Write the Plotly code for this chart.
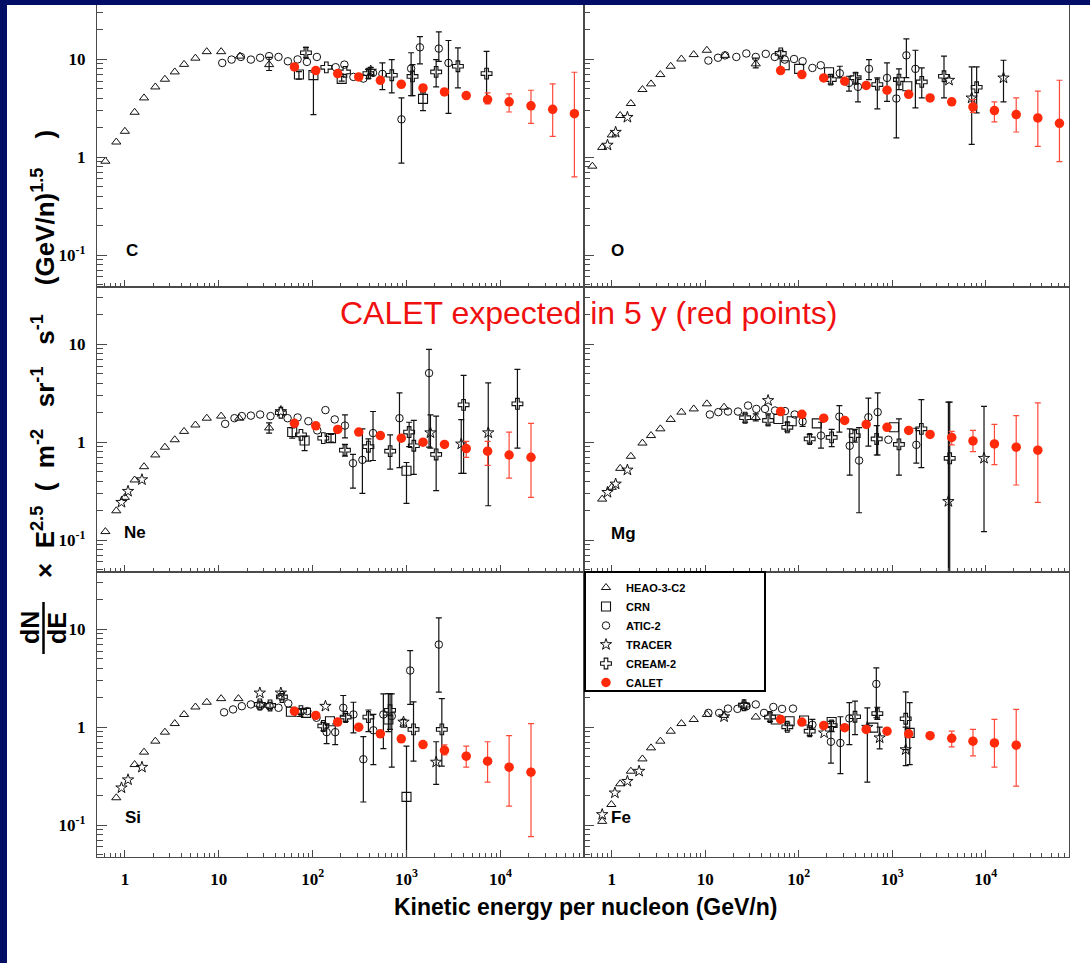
import plotly.graph_objects as go

W, H = 1090, 963

# ---------------- data (E in GeV/n, flux x E^2.5) ----------------
CALET_E = [64, 108, 185, 310, 527, 880, 1500, 2540, 4330, 7310, 12400, 21200, 36100, 61500]

# Carbon
C_HEAO_E = [0.62, 0.81, 1.0, 1.27, 1.6, 2.11, 2.67, 3.4, 4.27, 5.64, 7.45, 10.6, 16.8, 34.4]
C_HEAO_Y = [0.91, 1.43, 1.84, 2.88, 4.04, 5.23, 6.27, 7.45, 8.9, 10.3, 12.0, 12.0, 10.8, 8.85]
C_HEAO_HI = [None] * 13 + [10.5]
C_HEAO_LO = [None] * 13 + [7.7]
C_CRN_E = [71.5, 102, 204, 1500]
C_CRN_Y = [7.0, 6.9, 6.32, 3.95]
C_CRN_HI = [7.5, 7.4, 6.7, 4.54]
C_CRN_LO = [6.3, 2.73, 6.0, 3.0]
C_ATIC_E = [10.9, 13.7, 17.2, 22, 27.6, 34.4, 43.3, 54.5, 69.2, 86.9, 111, 176, 218, 272, 347, 440, 554, 884, 1120, 1390, 2210, 2800]
C_ATIC_Y = [9.2, 9.96, 10.6, 9.96, 10.4, 10.8, 10.6, 9.57, 10.0, 9.43, 10.6, 8.32, 8.85, 6.62, 6.37, 7.28, 7.11, 2.44, 8.06, 13.3, 12.9, 9.2]
C_ATIC_HI = [None] * 16 + [9.2, 4.04, 11.7, 17.1, 19.1, 15.6]
C_ATIC_LO = [None] * 16 + [4.91, 0.87, 4.27, 9.0, 9.57, 2.81]
C_TRACER_E = [416]
C_TRACER_Y = [7.6]
C_TRACER_HI = [8.3]
C_TRACER_LO = [6.9]
C_CREAM_E = [84.9, 140, 221, 393, 697, 1160, 2070, 3530, 7130]
C_CREAM_Y = [11.7, 8.3, 7.45, 7.16, 6.89, 6.7, 7.45, 8.51, 7.16]
C_CREAM_HI = [13.3, None, None, 7.9, 9.96, 8.85, 9.96, 13.1, 12.1]
C_CREAM_LO = [10.4, None, None, 6.4, 4.54, 4.27, 5.23, 5.11, 3.73]
C_CALET_Y = [8.38, 7.69, 7.16, 6.62, 6.12, 5.57, 5.11, 4.65, 4.27, 3.88, 3.68, 3.35, 3.09, 2.79]
C_CALET_HI = [None] * 9 + [4.54, 4.44, 4.84, 5.61, 7.39]
C_CALET_LO = [None] * 9 + [3.51, 2.90, 2.22, 1.63, 0.63]

# Oxygen
O_HEAO_E = [0.62, 0.79, 1.0, 1.23, 1.6, 2.13, 2.63, 3.31, 4.27, 5.56, 7.53, 10.4, 16.3, 34.7]
O_HEAO_Y = [0.81, 1.26, 1.69, 2.67, 3.54, 4.92, 5.62, 7.0, 8.51, 10.1, 11.2, 12.4, 11.0, 9.0]
O_HEAO_HI = [None] * 13 + [10.3]
O_HEAO_LO = [None] * 13 + [8.2]
O_CRN_E = [70.8, 101, 211, 1450]
O_CRN_Y = [8.71, 8.0, 7.39, 5.32]
O_ATIC_E = [10.8, 13.7, 16.3, 21.5, 27.5, 34.7, 44.4, 55.4, 70.8, 89.1, 110, 140, 172, 275, 345, 430, 564, 880, 1107, 1417, 1770]
O_ATIC_Y = [9.73, 10.4, 11.0, 10.6, 11.5, 10.6, 11.4, 10.6, 9.96, 10.1, 9.58, 8.18, 8.71, 7.22, 5.75, 5.24, 8.0, 6.47, 3.98, 11.0, 8.0]
O_ATIC_HI = [None] * 13 + [8.51, 6.73, 6.47, 9.96, 9.2, 6.47, 16.2, 12.4]
O_ATIC_LO = [None] * 13 + [6.47, 4.73, 3.68, 6.22, 3.73, 1.58, 6.5, 3.19]
O_TRACER_E = [0.90, 1.10, 1.47, 4050, 7080, 15500]
O_TRACER_Y = [1.33, 1.80, 2.56, 6.13, 4.04, 6.47]
O_TRACER_HI = [None, None, None, None, 8.38, 9.8]
O_TRACER_LO = [None, None, None, None, 1.35, 3.68]
O_CREAM_E = [64.2, 220, 406, 693, 1180, 2070, 3580, 8000]
O_CREAM_Y = [11.5, 6.22, 6.5, 5.53, 6.22, 5.89, 6.73, 5.19]
O_CREAM_HI = [12.4, 7.0, 7.3, 6.47, 8.0, 8.18, 10.8, 8.38]
O_CREAM_LO = [10.6, 5.6, 5.6, 3.12, 4.9, 4.04, 4.04, 2.84]
O_CALET_Y = [7.69, 7.0, 6.47, 5.98, 5.41, 4.84, 4.40, 4.04, 3.68, 3.27, 3.0, 2.73, 2.52, 2.22]
O_CALET_HI = [None] * 9 + [3.88, 3.68, 4.04, 4.73, 6.12]
O_CALET_LO = [None] * 9 + [2.88, 2.30, 1.81, 1.29, 0.90]

# Neon
NE_HEAO_E = [0.62, 0.81, 1.0, 1.27, 1.6, 2.11, 2.67, 3.4, 4.27, 5.64, 7.45, 10.6, 16.5, 34.4]
NE_HEAO_Y = [0.122, 0.199, 0.273, 0.411, 0.562, 0.741, 0.889, 1.06, 1.29, 1.50, 1.76, 1.85, 1.76, 1.40]
NE_HEAO_HI = [None] * 13 + [1.58]
NE_HEAO_LO = [None] * 13 + [1.24]
NE_CRN_E = [60.6, 82.2, 157, 1000]
NE_CRN_Y = [1.27, 1.04, 1.10, 0.51]
NE_CRN_HI = [1.4, 1.15, 1.2, 0.62]
NE_CRN_LO = [1.10, 0.82, 1.0, 0.237]
NE_ATIC_E = [11.7, 14.7, 17.6, 22, 27.6, 35.6, 54.1, 69.2, 90, 112, 137, 172, 221, 269, 339, 440, 842, 1740]
NE_ATIC_Y = [1.54, 1.76, 1.85, 1.87, 1.92, 1.85, 1.76, 1.79, 1.64, 1.32, 2.13, 1.71, 1.48, 0.61, 0.66, 1.24, 1.76, 5.09]
NE_ATIC_HI = [None] * 12 + [1.90, 0.75, 1.37, 2.06, 3.2, 8.9]
NE_ATIC_LO = [None] * 12 + [1.11, 0.34, 0.30, 0.65, 0.55, 0.89]
NE_TRACER_E = [0.92, 1.08, 1.52, 45.9, 1800, 3830, 7430]
NE_TRACER_Y = [0.243, 0.315, 0.414, 2.06, 1.25, 0.96, 1.25]
NE_TRACER_HI = [None, None, None, None, 1.9, 1.7, 4.05]
NE_TRACER_LO = [None, None, None, None, 0.87, 0.48, 0.224]
NE_CREAM_E = [45.9, 75.1, 130, 221, 393, 670, 1067, 1197, 2070, 4060, 15200]
NE_CREAM_Y = [2.0, 1.19, 1.10, 0.83, 0.90, 0.81, 1.27, 0.92, 0.75, 2.41, 2.47]
NE_CREAM_HI = [None, None, None, 0.95, 1.08, 1.19, 1.6, 1.67, 1.85, 4.82, 5.55]
NE_CREAM_LO = [None, None, None, 0.72, 0.64, 0.53, 0.9, 0.47, 0.32, 0.48, 0.87]
NE_CALET_Y = [1.56, 1.47, 1.35, 1.27, 1.17, 1.10, 1.0, 0.95, 0.86, 0.81, 0.74, 0.70]
NE_CALET_HI = [None] * 8 + [1.02, 1.02, 1.27, 1.56]
NE_CALET_LO = [None] * 8 + [0.70, 0.58, 0.43, 0.273]

# Magnesium
MG_HEAO_E = [0.79, 1.0, 1.23, 1.6, 2.13, 2.63, 3.31, 4.27, 5.56, 7.53, 10.4, 15.9, 34.7]
MG_HEAO_Y = [0.262, 0.346, 0.54, 0.718, 0.98, 1.17, 1.37, 1.71, 2.03, 2.19, 2.47, 2.28, 1.79]
MG_HEAO_HI = [None] * 12 + [1.95]
MG_HEAO_LO = [None] * 12 + [1.65]
MG_CRN_E = [60.6, 84.1, 156, 1045]
MG_CRN_Y = [1.73, 1.64, 1.56, 1.42]
MG_ATIC_E = [11.2, 13.8, 17.5, 22.4, 28.7, 35.2, 43.6, 55.8, 71.3, 90.5, 110, 173, 272, 351, 442, 556, 699, 909, 1810]
MG_ATIC_Y = [1.92, 2.03, 2.06, 2.06, 2.37, 2.19, 2.19, 2.11, 2.08, 1.92, 1.63, 1.17, 1.83, 0.92, 0.65, 1.80, 2.03, 1.06, 0.94]
MG_ATIC_HI = [None] * 10 + [1.75, 1.60, 2.37, 1.37, 1.41, 2.82, 3.2, None, 1.39]
MG_ATIC_LO = [None] * 10 + [1.45, 0.87, 1.27, 0.46, 0.19, 0.91, 0.74, None, 0.61]
MG_TRACER_E = [0.90, 1.10, 1.47, 47, 3990, 9590]
MG_TRACER_Y = [0.307, 0.374, 0.52, 2.67, 0.248, 0.685]
MG_TRACER_HI = [None, None, None, None, 2.57, 2.32]
MG_TRACER_LO = [None, None, None, None, 0.01, 0.122]
MG_CREAM_E = [26.7, 47, 75.5, 131, 225, 397, 682, 1180, 2050, 4120]
MG_CREAM_Y = [1.78, 1.67, 1.42, 1.08, 1.12, 1.17, 1.08, 0.95, 1.37, 0.685]
MG_CREAM_HI = [1.95, 1.95, 1.6, 1.2, 1.35, 1.35, 1.48, 1.73, 2.73, 2.57]
MG_CREAM_LO = [1.6, 1.5, 1.3, 0.98, 0.9, 1.0, 0.74, 0.46, 0.55, 0.02]
MG_CALET_Y = [2.06, 1.93, 1.76, 1.67, 1.52, 1.42, 1.32, 1.20, 1.12, 1.03, 0.96, 0.89, 0.83]
MG_CALET_HI = [None] * 8 + [1.29, 1.32, 1.52, 1.87, 2.53]
MG_CALET_LO = [None] * 8 + [0.94, 0.80, 0.59, 0.365, 0.243]

# Silicon
SI_HEAO_E = [0.81, 1.27, 1.6, 2.11, 2.67, 3.4, 4.27, 5.64, 7.45, 10.6, 16.2]
SI_HEAO_Y = [0.19, 0.415, 0.556, 0.72, 0.89, 1.09, 1.35, 1.61, 1.80, 1.96, 1.96]
SI_CRN_E = [58.7, 84.9, 153, 641, 1000]
SI_CRN_Y = [1.44, 1.40, 1.15, 1.20, 0.194]
SI_CRN_HI = [None, None, None, 2.2, 0.64]
SI_CRN_LO = [None, None, None, 0.9, 0.01]
SI_ATIC_E = [11.4, 14.2, 17.6, 22, 27.6, 34.8, 43.3, 55, 69.9, 87.7, 110, 141, 174, 212, 272, 347, 444, 567, 697, 1094, 2210]
SI_ATIC_Y = [1.42, 1.52, 1.64, 1.71, 1.64, 1.64, 1.58, 1.75, 1.40, 1.46, 1.25, 0.89, 0.89, 1.58, 1.35, 0.47, 0.93, 1.35, 1.30, 3.8, 7.0]
SI_ATIC_HI = [None] * 11 + [1.08, 1.08, 2.11, 1.80, 0.80, 1.35, 2.19, 2.19, 6.08, 13.1]
SI_ATIC_LO = [None] * 11 + [0.68, 0.665, 1.3, 0.875, 0.172, 0.415, 0.605, 0.39, 1.71, 2.28]
SI_TRACER_E = [0.92, 1.08, 1.52, 27.4, 45.9, 137, 929, 2070]
SI_TRACER_Y = [0.24, 0.29, 0.39, 2.24, 2.24, 1.64, 1.13, 0.44]
SI_TRACER_HI = [None] * 6 + [1.2, 0.71]
SI_TRACER_LO = [None] * 6 + [1.0, 0.26]
SI_CREAM_E = [27.4, 35.2, 47.1, 75.1, 130, 225, 393, 668, 1188, 2380]
SI_CREAM_Y = [1.71, 1.67, 2.04, 1.46, 1.03, 1.27, 1.27, 1.49, 0.95, 0.95]
SI_CREAM_HI = [1.85, 1.8, 2.2, 1.55, 1.12, 1.38, 1.5, 2.2, 1.82, 1.96]
SI_CREAM_LO = [1.58, 1.55, 1.9, 1.35, 0.92, 1.15, 0.9, 0.95, 0.45, 0.40]
SI_CALET_Y = [1.46, 1.32, 1.13, 1.0, 0.855, 0.76, 0.665, 0.58, 0.505, 0.45, 0.39, 0.347]
SI_CALET_HI = [None] * 7 + [0.66, 0.64, 0.71, 0.82, 1.09]
SI_CALET_LO = [None] * 7 + [0.52, 0.39, 0.274, 0.156, 0.076]

# Iron
FE_HEAO_E = [0.79, 0.99, 1.23, 1.6, 2.13, 2.63, 3.31, 4.27, 5.56, 7.53, 10.4, 15.9, 34.7]
FE_HEAO_Y = [0.109, 0.162, 0.264, 0.355, 0.474, 0.615, 0.72, 0.91, 1.09, 1.20, 1.35, 1.32, 1.27]
FE_CRN_E = [56.7, 79.9, 114, 225, 628, 1538]
FE_CRN_Y = [1.20, 1.15, 1.17, 1.13, 0.99, 0.875]
FE_CRN_HI = [None] * 5 + [1.78]
FE_CRN_LO = [None] * 5 + [0.415]
FE_ATIC_E = [10.8, 14.1, 17.5, 22.1, 27.7, 34.7, 42.6, 53.5, 66.3, 86.8, 140, 221, 279, 348, 676]
FE_ATIC_Y = [1.40, 1.40, 1.55, 1.54, 1.64, 1.71, 1.40, 1.61, 1.54, 1.55, 1.06, 0.71, 0.69, 1.23, 2.77]
FE_ATIC_HI = [None] * 10 + [1.2, 1.15, 1.28, 1.78, 4.04]
FE_ATIC_LO = [None] * 10 + [0.95, 0.43, 0.336, 0.665, 1.25]
FE_TRACER_E = [0.79, 1.08, 1.47, 1.96, 15.9, 26, 187, 542, 734, 1394]
FE_TRACER_Y = [0.128, 0.213, 0.28, 0.355, 1.28, 1.68, 0.875, 1.0, 0.78, 0.59]
FE_TRACER_HI = [None] * 7 + [1.58, 1.0, 1.0]
FE_TRACER_LO = [None] * 7 + [0.274, 0.6, 0.405]
FE_CREAM_E = [26, 49.3, 75.5, 131, 225, 400, 693, 1394]
FE_CREAM_Y = [1.68, 1.27, 1.01, 0.91, 1.04, 1.28, 1.38, 1.22]
FE_CREAM_HI = [1.8, 1.4, 1.1, 1.0, 1.15, 1.85, 1.6, 2.30]
FE_CREAM_LO = [1.55, 1.15, 0.92, 0.82, 0.9, 0.84, 1.2, 0.59]
FE_CALET_Y = [1.20, 1.13, 1.04, 0.99, 0.95, 0.91, 0.855, 0.82, 0.77, 0.72, 0.69, 0.655]
FE_CALET_HI = [None] * 8 + [0.91, 0.95, 1.20, 1.52]
FE_CALET_LO = [None] * 8 + [0.63, 0.51, 0.39, 0.25]

ELEMENTS = ["C", "O", "Ne", "Mg", "Si", "Fe"]
X_TICKS = [1, 10, 100, 1000, 10000]
X_TICK_TEXT = ["1", "10", "10<sup>2</sup>", "10<sup>3</sup>", "10<sup>4</sup>"]
Y_TICKS = [0.1, 1, 10]
Y_TICK_TEXT = ["10<sup>-1</sup>", "1", "10"]

# ---------------- styles ----------------
NAVY = "#020e66"
AXC = "#4a4a4a"
BLK = "#111111"
RED = "#ff2a0a"
STY = {
    "HEAO-3-C2": dict(symbol="triangle-up-open", size=8, color=BLK, line=dict(width=1.0, color=BLK)),
    "CRN": dict(symbol="square-open", size=9, color=BLK, line=dict(width=1.1, color=BLK)),
    "ATIC-2": dict(symbol="circle-open", size=7.5, color=BLK, line=dict(width=1.0, color=BLK)),
    "TRACER": dict(symbol="star-open", size=8.5, color=BLK, line=dict(width=1.0, color=BLK)),
    "CREAM-2": dict(symbol="cross-open", size=9, color=BLK, line=dict(width=1.1, color=BLK)),
    "CALET": dict(symbol="circle", size=9.5, color=RED, line=dict(width=0, color=RED)),
}
ERRC = {"CALET": "#ff4a3a"}

PANELS = [
    {"HEAO-3-C2": (C_HEAO_E, C_HEAO_Y, C_HEAO_HI, C_HEAO_LO), "CRN": (C_CRN_E, C_CRN_Y, C_CRN_HI, C_CRN_LO),
     "ATIC-2": (C_ATIC_E, C_ATIC_Y, C_ATIC_HI, C_ATIC_LO), "TRACER": (C_TRACER_E, C_TRACER_Y, C_TRACER_HI, C_TRACER_LO),
     "CREAM-2": (C_CREAM_E, C_CREAM_Y, C_CREAM_HI, C_CREAM_LO), "CALET": (CALET_E, C_CALET_Y, C_CALET_HI, C_CALET_LO)},
    {"HEAO-3-C2": (O_HEAO_E, O_HEAO_Y, O_HEAO_HI, O_HEAO_LO), "CRN": (O_CRN_E, O_CRN_Y, None, None),
     "ATIC-2": (O_ATIC_E, O_ATIC_Y, O_ATIC_HI, O_ATIC_LO), "TRACER": (O_TRACER_E, O_TRACER_Y, O_TRACER_HI, O_TRACER_LO),
     "CREAM-2": (O_CREAM_E, O_CREAM_Y, O_CREAM_HI, O_CREAM_LO), "CALET": (CALET_E, O_CALET_Y, O_CALET_HI, O_CALET_LO)},
    {"HEAO-3-C2": (NE_HEAO_E, NE_HEAO_Y, NE_HEAO_HI, NE_HEAO_LO), "CRN": (NE_CRN_E, NE_CRN_Y, NE_CRN_HI, NE_CRN_LO),
     "ATIC-2": (NE_ATIC_E, NE_ATIC_Y, NE_ATIC_HI, NE_ATIC_LO), "TRACER": (NE_TRACER_E, NE_TRACER_Y, NE_TRACER_HI, NE_TRACER_LO),
     "CREAM-2": (NE_CREAM_E, NE_CREAM_Y, NE_CREAM_HI, NE_CREAM_LO), "CALET": (CALET_E, NE_CALET_Y, NE_CALET_HI, NE_CALET_LO)},
    {"HEAO-3-C2": (MG_HEAO_E, MG_HEAO_Y, MG_HEAO_HI, MG_HEAO_LO), "CRN": (MG_CRN_E, MG_CRN_Y, None, None),
     "ATIC-2": (MG_ATIC_E, MG_ATIC_Y, MG_ATIC_HI, MG_ATIC_LO), "TRACER": (MG_TRACER_E, MG_TRACER_Y, MG_TRACER_HI, MG_TRACER_LO),
     "CREAM-2": (MG_CREAM_E, MG_CREAM_Y, MG_CREAM_HI, MG_CREAM_LO), "CALET": (CALET_E, MG_CALET_Y, MG_CALET_HI, MG_CALET_LO)},
    {"HEAO-3-C2": (SI_HEAO_E, SI_HEAO_Y, None, None), "CRN": (SI_CRN_E, SI_CRN_Y, SI_CRN_HI, SI_CRN_LO),
     "ATIC-2": (SI_ATIC_E, SI_ATIC_Y, SI_ATIC_HI, SI_ATIC_LO), "TRACER": (SI_TRACER_E, SI_TRACER_Y, SI_TRACER_HI, SI_TRACER_LO),
     "CREAM-2": (SI_CREAM_E, SI_CREAM_Y, SI_CREAM_HI, SI_CREAM_LO), "CALET": (CALET_E, SI_CALET_Y, SI_CALET_HI, SI_CALET_LO)},
    {"HEAO-3-C2": (FE_HEAO_E, FE_HEAO_Y, None, None), "CRN": (FE_CRN_E, FE_CRN_Y, FE_CRN_HI, FE_CRN_LO),
     "ATIC-2": (FE_ATIC_E, FE_ATIC_Y, FE_ATIC_HI, FE_ATIC_LO), "TRACER": (FE_TRACER_E, FE_TRACER_Y, FE_TRACER_HI, FE_TRACER_LO),
     "CREAM-2": (FE_CREAM_E, FE_CREAM_Y, FE_CREAM_HI, FE_CREAM_LO), "CALET": (CALET_E, FE_CALET_Y, FE_CALET_HI, FE_CALET_LO)},
]
ORDER = ["HEAO-3-C2", "CRN", "ATIC-2", "TRACER", "CREAM-2", "CALET"]

fig = go.Figure()

for p, panel in enumerate(PANELS, start=1):
    xa = "x" if p == 1 else f"x{p}"
    ya = "y" if p == 1 else f"y{p}"
    for name in ORDER:
        E, Y, HI, LO = panel[name]
        E = E[:len(Y)]
        if HI is not None:
            idx = [i for i in range(len(Y)) if HI[i] is not None]
            if idx:
                fig.add_trace(go.Scatter(
                    x=[E[i] for i in idx], y=[Y[i] for i in idx], mode="markers",
                    marker=dict(size=1, opacity=0), showlegend=False, hoverinfo="skip",
                    error_y=dict(type="data", symmetric=False,
                                 array=[HI[i] - Y[i] for i in idx],
                                 arrayminus=[Y[i] - LO[i] for i in idx],
                                 color=ERRC.get(name, BLK), thickness=1.2, width=3),
                    xaxis=xa, yaxis=ya))
        fig.add_trace(go.Scatter(x=E, y=Y, mode="markers", name=name, legendgroup=name,
                                 showlegend=(p == 6), marker=STY[name], xaxis=xa, yaxis=ya,
                                 cliponaxis=True))

# ---------------- axes ----------------
xdom = {0: [97 / W, 584 / W], 1: [584 / W, 1069 / W]}
ydom = {0: [(H - 287) / H, (H - 2) / H], 1: [(H - 572) / H, (H - 287) / H], 2: [(H - 857) / H, (H - 572) / H]}
tickfont = dict(family="Liberation Serif", size=17, color="black", weight="bold")
layout_axes = {}
for p in range(1, 7):
    row, col = (p - 1) // 2, (p - 1) % 2
    sx = "" if p == 1 else str(p)
    layout_axes[f"xaxis{sx}"] = dict(
        type="log", range=[-0.297, 4.891], domain=xdom[col], anchor=f"y{sx}",
        showgrid=False, zeroline=False, showline=True, linecolor=AXC, linewidth=1.3, mirror=True,
        ticks="inside", ticklen=7, tickwidth=1.1, tickcolor=AXC,
        tickmode="array", tickvals=X_TICKS, ticktext=X_TICK_TEXT,
        showticklabels=(row == 2), tickfont=tickfont, ticklabelstandoff=6,
        minor=dict(tickmode="linear", dtick="D1", ticks="inside", ticklen=4, tickwidth=1,
                   tickcolor=AXC, showgrid=False))
    layout_axes[f"yaxis{sx}"] = dict(
        type="log", range=[-1.327, 1.587], domain=ydom[row], anchor=f"x{sx}",
        showgrid=False, zeroline=False, showline=True, linecolor=AXC, linewidth=1.3, mirror=True,
        ticks="inside", ticklen=10, tickwidth=1.1, tickcolor=AXC,
        tickmode="array", tickvals=Y_TICKS, ticktext=Y_TICK_TEXT,
        showticklabels=(col == 0), tickfont=tickfont, ticklabelstandoff=7,
        minor=dict(tickmode="linear", dtick="D1", ticks="inside", ticklen=6, tickwidth=1,
                   tickcolor=AXC, showgrid=False))

annotations = []
label_pos = [(132, 251), (617, 250), (135, 532), (623, 533), (133, 817), (621, 817)]
for el, (px, py) in zip(ELEMENTS, label_pos):
    annotations.append(dict(text=el, x=px / W, y=(H - py) / H, xref="paper", yref="paper",
                            showarrow=False, xanchor="center", yanchor="middle",
                            font=dict(family="Liberation Sans, Arial", size=17, color="black", weight="bold")))
annotations.append(dict(text="CALET expected in 5 y (red points)", x=588 / W, y=(H - 313) / H,
                        xref="paper", yref="paper", showarrow=False, xanchor="center", yanchor="middle",
                        font=dict(family="Liberation Sans, Arial", size=32, color="#f01010")))
annotations.append(dict(text="Kinetic energy per nucleon (GeV/n)", x=585 / W, y=(H - 907) / H,
                        xref="paper", yref="paper", showarrow=False, xanchor="center", yanchor="middle",
                        font=dict(family="Liberation Sans, Arial", size=23, color="black", weight="bold")))
annotations.append(dict(text="×  E<sup>2.5</sup>  (  m<sup>-2</sup>   sr<sup>-1</sup>   s<sup>-1</sup>    (GeV/n)<sup>1.5</sup>    )",
                        x=43 / W, y=(H - 354) / H, xref="paper", yref="paper", showarrow=False,
                        textangle=-90, xanchor="center", yanchor="middle",
                        font=dict(family="Liberation Sans, Arial", size=26, color="black", weight="bold")))
annotations.append(dict(text="dN", x=30 / W, y=(H - 628) / H, xref="paper", yref="paper", showarrow=False,
                        textangle=-90, xanchor="center", yanchor="middle",
                        font=dict(family="Liberation Sans, Arial", size=25, color="black", weight="bold")))
annotations.append(dict(text="dE", x=57 / W, y=(H - 628) / H, xref="paper", yref="paper", showarrow=False,
                        textangle=-90, xanchor="center", yanchor="middle",
                        font=dict(family="Liberation Sans, Arial", size=25, color="black", weight="bold")))

shapes = [
    dict(type="rect", xref="paper", yref="paper", x0=0, x1=7 / W, y0=0, y1=1, fillcolor=NAVY,
         line=dict(width=0), layer="above"),
    dict(type="rect", xref="paper", yref="paper", x0=0, x1=1, y0=(H - 5) / H, y1=1, fillcolor=NAVY,
         line=dict(width=0), layer="above"),
    dict(type="rect", xref="paper", yref="paper", x0=585 / W, x1=765 / W, y0=(H - 691) / H, y1=(H - 572) / H,
         fillcolor="white", line=dict(width=2, color="black"), layer="above"),
    dict(type="line", xref="paper", yref="paper", x0=43.5 / W, x1=43.5 / W, y0=(H - 602) / H, y1=(H - 654) / H,
         line=dict(width=2.5, color="black"), layer="above"),
]

fig.update_layout(
    width=W, height=H, margin=dict(l=0, r=0, t=0, b=0),
    paper_bgcolor="white", plot_bgcolor="white",
    font=dict(family="Liberation Sans, Arial", color="black"),
    showlegend=True,
    legend=dict(x=586 / W, y=(H - 573) / H, xanchor="left", yanchor="top", bgcolor="rgba(0,0,0,0)",
                borderwidth=0, tracegroupgap=0, traceorder="normal",
                font=dict(family="Liberation Sans Narrow, Liberation Sans, Arial", size=11, color="black", weight="bold")),
    annotations=annotations, shapes=shapes,
    **layout_axes,
)

fig.write_html("out.html")
